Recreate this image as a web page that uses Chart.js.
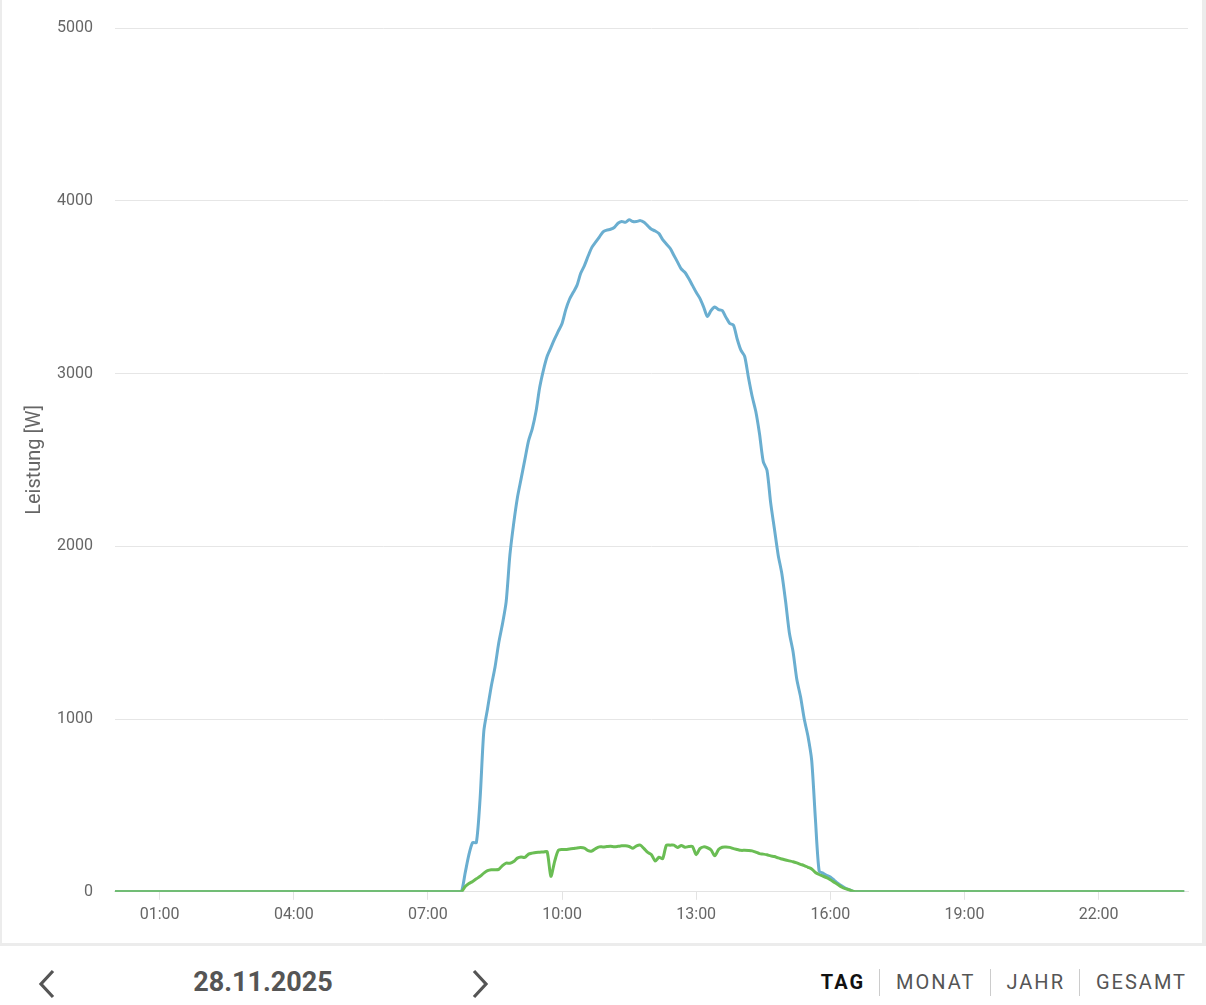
<!DOCTYPE html>
<html lang="de">
<head>
<meta charset="utf-8">
<title>Leistung 28.11.2025</title>
<script src="https://cdn.jsdelivr.net/npm/chart.js@4/dist/chart.umd.min.js"></script>
<style>
  html, body { margin: 0; padding: 0; background: #fff; }
  body { width: 1206px; height: 1005px; overflow: hidden; font-family: Roboto, "Noto Sans", sans-serif; }
  .card {
    box-sizing: border-box;
    width: 1206px;
    height: 946px;
    border-left: 2px solid #ececec;
    border-right: 4px solid #ececec;
    border-bottom: 3px solid #ececec;
  }
  .chart-box { position: relative; width: 1200px; height: 943px; }
  .nav { position: relative; height: 59px; }
  .arrow { position: absolute; top: 22px; }
  .date {
    position: absolute; left: 183px; top: 20px; width: 160px; text-align: center;
    font-size: 27px; font-weight: 700; color: #555; line-height: 32px;
  }
  .tabs { position: absolute; right: 5px; top: 22px; display: flex; align-items: center; }
  .tabs span { font-size: 20px; letter-spacing: 2px; color: #555; line-height: 28px; padding: 0 14px 0 16px; }
  .tabs span.active { font-weight: 700; color: #111; }
  .tabs i { display: block; width: 1px; height: 27px; background: #ccc; }
</style>
</head>
<body>
<div class="card">
  <div class="chart-box"><canvas id="powerChart"></canvas></div>
</div>
<div class="nav">
  <svg class="arrow" style="left:37px" width="20" height="32" viewBox="0 0 20 32">
    <polyline points="16,3 4,16 16,29" fill="none" stroke="#555" stroke-width="3.2"/>
  </svg>
  <div class="date">28.11.2025</div>
  <svg class="arrow" style="left:470px" width="20" height="32" viewBox="0 0 20 32">
    <polyline points="4,3 16,16 4,29" fill="none" stroke="#555" stroke-width="3.2"/>
  </svg>
  <div class="tabs">
    <span class="active">TAG</span><i></i><span>MONAT</span><i></i><span>JAHR</span><i></i><span>GESAMT</span>
  </div>
</div>

<script>
// Tageswerte in 5-Minuten-Schritten, 07:40 bis 16:35
const dayStart = '07:40'
const stepMinutes = 5
const dayEnd = '23:55'

// Erzeugung (blau) in W
const production = [
  0, 0, 110, 215, 285, 285, 540, 930, 1060, 1190,
  1300, 1440, 1550, 1680, 1950, 2130, 2280, 2390, 2500, 2610,
  2680, 2780, 2920, 3020, 3100, 3150, 3200, 3245, 3290, 3370,
  3430, 3470, 3510, 3580, 3625, 3680, 3730, 3760, 3790, 3820,
  3830, 3835, 3845, 3870, 3880, 3875, 3890, 3880, 3880, 3885,
  3875, 3855, 3835, 3825, 3810, 3775, 3750, 3725, 3685, 3645,
  3605, 3585, 3550, 3510, 3470, 3435, 3385, 3330, 3365, 3385,
  3370, 3365, 3325, 3290, 3280, 3200, 3135, 3100, 2980, 2870,
  2780, 2650, 2490, 2440, 2250, 2100, 1950, 1840, 1680, 1500,
  1390, 1230, 1130, 1000, 900, 760, 420, 120, 108, 96,
  85, 68, 50, 35, 22, 12, 4, 0
]

// Verbrauch (grün) in W
const consumption = [
  0, 0, 30, 48, 60, 75, 90, 108, 122, 128,
  128, 130, 152, 166, 165, 175, 195, 202, 199, 218,
  224, 228, 229, 231, 232, 90, 175, 240, 245, 245,
  248, 250, 254, 256, 253, 238, 236, 250, 260, 260,
  262, 264, 261, 263, 266, 266, 262, 252, 266, 270,
  250, 228, 215, 178, 200, 192, 270, 270, 270, 257,
  268, 258, 262, 262, 215, 250, 260, 255, 242, 208,
  245, 258, 259, 257, 250, 245, 240, 240, 239, 237,
  230, 221, 218, 214, 208, 204, 196, 190, 184, 179,
  174, 167, 159, 152, 142, 132, 112, 100, 91, 82,
  70, 56, 42, 28, 18, 12, 4, 0
]

const hourTicks = ['01:00', '04:00', '07:00', '10:00', '13:00', '16:00', '19:00', '22:00']
const yTicks = [0, 1000, 2000, 3000, 4000, 5000]

const toMinutes = (s) => {
  const [h, m] = s.split(':').map(Number)
  return h * 60 + m
}
const toLabel = (v) => String(Math.floor(v / 60)).padStart(2, '0') + ':' + String(v % 60).padStart(2, '0')

const buildSeries = (values) => {
  const start = toMinutes(dayStart)
  const pts = [{ x: 0, y: 0 }]
  values.forEach((v, i) => pts.push({ x: start + i * stepMinutes, y: v }))
  pts.push({ x: toMinutes(dayEnd), y: 0 })
  return pts
}

const ctx = document.getElementById('powerChart')

new Chart(ctx, {
  type: 'line',
  data: {
    datasets: [{
      label: 'Verbrauch',
      data: buildSeries(consumption),
      borderColor: 'rgb(106,189,84)',
      borderWidth: 3,
      pointRadius: 0,
      tension: 0.25,
      order: 1
    }, {
      label: 'Erzeugung',
      data: buildSeries(production),
      borderColor: 'rgb(106,174,208)',
      borderWidth: 3,
      pointRadius: 0,
      tension: 0.25,
      order: 2
    }]
  },
  options: {
    responsive: true,
    maintainAspectRatio: false,
    animation: false,
    layout: { padding: { top: 0, right: 14, left: 21, bottom: 12 } },
    plugins: {
      legend: { display: false },
      tooltip: { enabled: false }
    },
    scales: {
      x: {
        type: 'linear',
        min: 0,
        max: 1440,
        afterBuildTicks: (scale) => {
          scale.ticks = hourTicks.map(t => ({ value: toMinutes(t) }))
        },
        ticks: {
          callback: (v) => toLabel(v),
          color: '#666',
          font: { family: 'Roboto', size: 16 },
          maxRotation: 0,
          padding: 6
        },
        grid: {
          drawOnChartArea: false,
          drawTicks: true,
          tickLength: 8,
          color: '#e3e3e3'
        },
        border: { color: '#e3e3e3' }
      },
      y: {
        min: 0,
        max: 5000,
        afterBuildTicks: (scale) => {
          scale.ticks = yTicks.map(v => ({ value: v }))
        },
        // Chart.js rechnet das Tick-Padding doppelt, hier etwas zurücknehmen
        afterFit: (scale) => {
          scale.width -= 12
          scale.paddingTop = 28
        },
        ticks: {
          callback: (v) => String(v),
          color: '#666',
          font: { family: 'Roboto', size: 16 },
          padding: 22
        },
        grid: {
          color: '#e6e6e6',
          drawTicks: false
        },
        border: { display: false },
        title: {
          display: true,
          text: 'Leistung [W]',
          color: '#666',
          font: { family: 'Roboto', size: 20 },
          padding: { top: 0, bottom: 0 }
        }
      }
    }
  }
})
</script>
</body>
</html>
